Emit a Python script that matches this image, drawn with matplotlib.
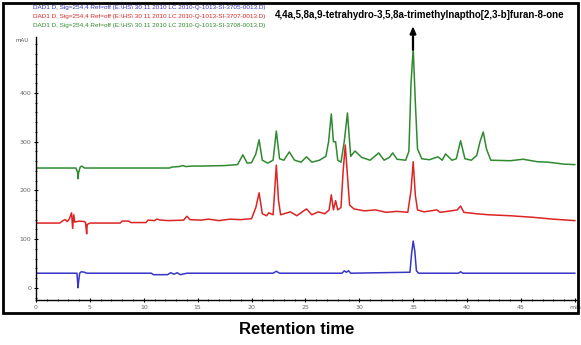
import matplotlib
matplotlib.use("Agg")
import matplotlib.pyplot as plt
from matplotlib.patches import Rectangle, FancyArrow
from matplotlib.ticker import MultipleLocator

# ---- data (time in min, signal in mAU) ----
green_t = [0, 3.7, 3.85, 3.9, 3.95, 4.1, 4.25, 4.5, 12.4, 12.6, 13.3, 13.6, 13.9, 14.5, 15.3, 17.5,
           18.7, 19.2, 19.6, 20.0, 20.4, 20.7, 21.0, 21.5, 22.0, 22.3, 22.6, 23.0, 23.5, 24.0, 24.6,
           25.1, 25.6, 26.3, 26.9, 27.15, 27.4, 27.6, 27.8, 28.0, 28.3, 28.6, 28.9, 29.2, 29.6, 30.2,
           31.0, 31.8, 32.3, 32.8, 33.1, 33.5, 34.3, 34.6, 34.8, 35.0, 35.2, 35.4, 35.8, 36.5, 37.3,
           37.7, 38.0, 38.6, 39.0, 39.4, 39.8, 40.4, 40.9, 41.2, 41.5, 41.8, 42.2, 44.0, 45.2, 46.5,
           47.5, 49, 50]
green_v = [246, 246, 238, 224, 236, 248, 250, 246, 246, 248, 249, 251, 249, 250, 250, 251,
           253, 273, 256, 257, 275, 304, 262, 256, 262, 322, 265, 262, 279, 262, 258,
           269, 258, 262, 270, 300, 357, 300, 300, 262, 258, 300, 359, 270, 281, 268,
           262, 277, 262, 268, 277, 264, 262, 280, 420, 492, 380, 285, 265, 263, 269,
           262, 275, 262, 265, 302, 265, 262, 272, 300, 320, 285, 262, 261, 264, 259,
           258, 254, 253]

red_t = [0, 2.2, 2.5, 2.7, 2.9, 3.1, 3.3, 3.4, 3.5, 3.6, 4.0, 4.5, 4.6, 4.7, 4.75, 5.0, 7.8, 8.0,
         8.6, 8.8, 10.2, 10.4, 11.0, 11.2, 11.6, 12.3, 13.7, 14.0, 14.3, 15.3, 16, 17, 18, 19, 20.0,
         20.4, 20.7, 21.0, 21.4, 21.6, 22.0, 22.15, 22.3, 22.5, 22.7, 23.6, 24.2, 25.1, 25.6, 26.2,
         26.8, 27.2, 27.4, 27.6, 27.8, 28.0, 28.3, 28.5, 28.7, 28.9, 29.1, 29.5, 30.5, 31.5, 32.5,
         33.5, 34.5, 34.8, 35.0, 35.2, 35.4, 36, 37.2, 37.5, 38.5, 39.1, 39.4, 39.7, 40.9, 42, 44,
         46, 48, 50]
red_v = [133, 133, 138, 140, 136, 142, 154, 122, 150, 135, 137, 136, 134, 111, 130, 133, 133, 137,
         137, 134, 134, 139, 138, 141, 139, 138, 139, 147, 140, 139, 141, 138, 141, 140, 142,
         165, 195, 152, 148, 154, 150, 200, 252, 180, 150, 156, 148, 162, 150, 156,
         152, 160, 191, 160, 179, 160, 165, 240, 293, 230, 170, 162, 158, 160, 155,
         157, 155, 200, 259, 190, 160, 156, 160, 155, 158, 160, 168, 155, 152, 150, 148,
         145, 141, 138]

blue_t = [0, 3.8, 3.85, 3.9, 3.95, 4.05, 4.2, 4.5, 4.7, 10.7, 10.9, 12.2, 12.5, 12.8, 13.1, 13.4,
          14.0, 22.0, 22.3, 22.6, 28.4, 28.6, 28.8, 29.0, 29.2, 34.7, 34.85, 35.0, 35.15, 35.3, 35.5,
          39.2, 39.4, 39.6, 50]
blue_v = [30, 30, 15, 0, 12, 30, 33, 32, 30, 30, 27, 27, 31, 28, 31, 27,
          30, 30, 34, 30, 30, 35, 32, 35, 30, 32, 70, 96, 75, 35, 30,
          30, 33, 30, 30]

x_ticks = [0, 5, 10, 15, 20, 25, 30, 35, 40, 45, 50]
x_labels = ["0", "5", "10", "15", "20", "25", "30", "35", "40", "45", "min"]
y_ticks = [0, 100, 200, 300, 400]

legend_lines = [
    "DAD1 D, Sig=254,4 Ref=off (E:\\HS\\ 30 11 2010 LC 2010-Q-1013-SI-3705-0013.D)",
    "DAD1 D, Sig=254,4 Ref=off (E:\\HS\\ 30 11 2010 LC 2010-Q-1013-SI-3707-0013.D)",
    "DAD1 D, Sig=254,4 Ref=off (E:\\HS\\ 30 11 2010 LC 2010-Q-1013-SI-3708-0013.D)",
]
compound = "4,4a,5,8a,9-tetrahydro-3,5,8a-trimethylnaptho[2,3-b]furan-8-one"

BLUE = "#3636c8"
RED = "#dc2424"
GREEN = "#2f8a2f"

W, H = 581, 345
fig = plt.figure(figsize=(W / 100, H / 100), dpi=100)
ax = fig.add_axes([36 / W, 1 - 300 / H, (577 - 36) / W, (300 - 37) / H])

ax.plot(green_t, green_v, color=GREEN, lw=1.1)
ax.plot(red_t, red_v, color=RED, lw=1.1)
ax.plot(blue_t, blue_v, color=BLUE, lw=1.1)

ax.set_xlim(0, 50.2)
ax.set_ylim(-25, 515)
ax.set_xticks(x_ticks)
ax.set_xticklabels(x_labels)
ax.set_yticks(y_ticks)
ax.xaxis.set_minor_locator(MultipleLocator(1))
ax.yaxis.set_minor_locator(MultipleLocator(20))
ax.tick_params(axis="both", which="major", labelsize=4.5, labelcolor="#666666",
               length=3, width=0.8, direction="inout", pad=2)
ax.tick_params(axis="both", which="minor", length=2, width=0.6, direction="inout")
for s in ["top", "right"]:
    ax.spines[s].set_visible(False)
for s in ["left", "bottom"]:
    ax.spines[s].set_linewidth(1.0)

# mAU label
fig.text(22 / W, 1 - 40 / H, "mAU", fontsize=4, color="#555555", ha="center", va="center")

# legend lines
for i, (txt, c) in enumerate(zip(legend_lines, [BLUE, RED, GREEN])):
    fig.text(33 / W, 1 - (7 + i * 9.5) / H, txt, fontsize=4.6, color=c, ha="left", va="center",
             family="Liberation Sans")

# compound annotation with arrow
fig.text(275 / W, 1 - 15 / H, compound, fontsize=7.0, fontweight="bold",
         family="Liberation Sans", ha="left", va="center")
fig.patches.append(FancyArrow(
    413 / W, 1 - 50 / H, 0, (50 - 28) / H, width=0.0015, head_width=0.01,
    head_length=0.02, length_includes_head=True, color="black", transform=fig.transFigure))

# outer border
fig.patches.append(Rectangle((3 / W, 1 - 313 / H), 575 / W, 310 / H, fill=False,
                             lw=2, edgecolor="black", transform=fig.transFigure))

fig.text(297 / W, 1 - 330 / H, "Retention time", fontsize=12, fontweight="bold",
         family="Liberation Sans", ha="center", va="center")

fig.savefig("out.png", dpi=100)
